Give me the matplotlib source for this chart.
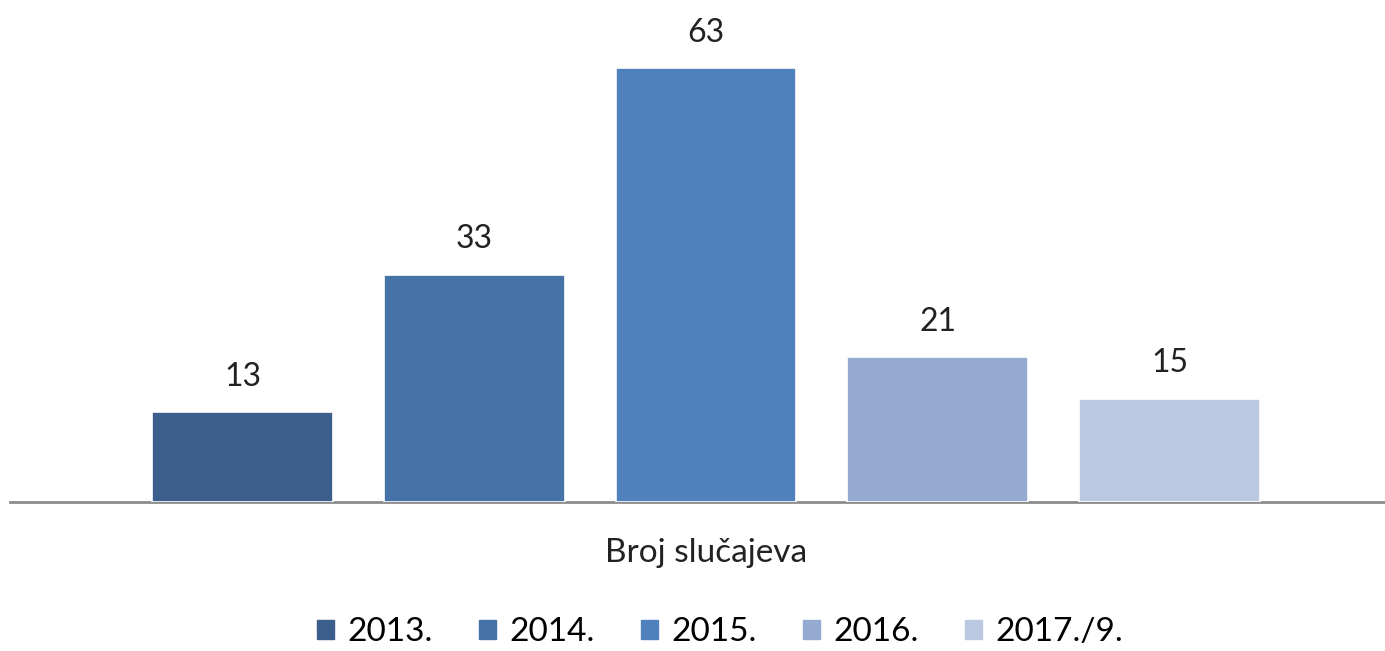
import matplotlib.pyplot as plt
import matplotlib.patheffects as pe

years = ["2013.", "2014.", "2015.", "2016.", "2017./9."]
values = [13, 33, 63, 21, 15]
colors = ["#3B5E8C", "#4572A7", "#4F81BD", "#95AAD0", "#BBC8E2"]
category = "Broj slučajeva"

plt.rcParams['font.family'] = ['Lato', 'DejaVu Sans']

fig = plt.figure(figsize=(13.85, 6.51), dpi=100)
ax = fig.add_axes([10 / 1385, 149 / 651, 1375 / 1385, 482 / 651])

x = list(range(len(values)))
bars = ax.bar(x, values, width=0.78, color=colors, edgecolor="white",
              linewidth=1.2, label=years, zorder=3)
for b in bars:
    b.set_path_effects([pe.SimplePatchShadow(offset=(0, 0), shadow_rgbFace="#bbbbbb", alpha=0.5),
                        pe.Normal()])

for xi, v in zip(x, values):
    ax.text(xi, v + 3.0, str(v), ha="center", va="bottom", fontsize=23, color="#222222")

ax.set_xlim(-1.003, 4.93)
ax.set_ylim(0, 70)
for s in ["top", "right", "left"]:
    ax.spines[s].set_visible(False)
ax.spines["bottom"].set_color("#8c8c8c")
ax.spines["bottom"].set_linewidth(2)
ax.set_yticks([])
ax.set_xticks([])

fig.text(706 / 1385, 1 - 553 / 651, category, ha="center", va="center", fontsize=24, color="#222222")

handles = [plt.Rectangle((0, 0), 1, 1, color=c) for c in colors]
fig.legend(handles, years, loc="center", bbox_to_anchor=(720 / 1385, 1 - 632 / 651),
           ncol=5, frameon=False, fontsize=24, handlelength=0.5, handleheight=0.5,
           handletextpad=0.4, columnspacing=1.4)

fig.savefig("out.png", dpi=100)
